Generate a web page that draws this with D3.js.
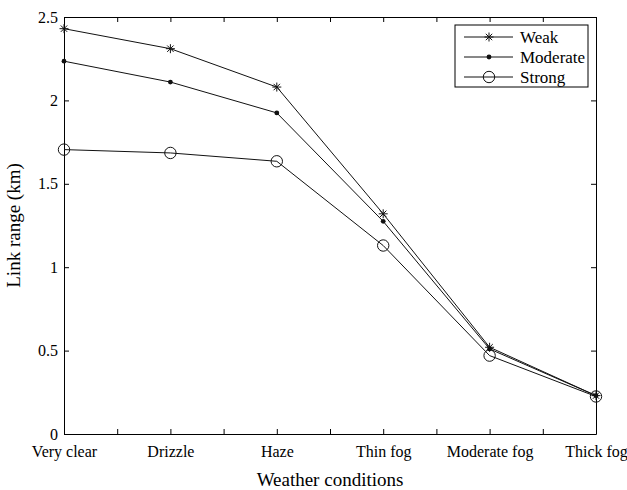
<!doctype html>
<html lang="en">
  <head>
    <meta charset="utf-8">
    <script src="https://cdn.jsdelivr.net/npm/d3@7"></script>
    <style>
      body {margin:0; background:white; font-family: "Liberation Serif", "Times New Roman", serif}
      svg {display:block}
      .axis path, .axis line {stroke:black; stroke-width:1px}
      .axis text {font-family:"Liberation Serif", serif; font-size:16px; fill:black}
    </style>
    <title>Link range vs weather</title>
  </head>
  <body>
    <script>
      // data
      const weather = ["Very clear", "Drizzle", "Haze", "Thin fog", "Moderate fog", "Thick fog"];
      const weak     = [2.43, 2.31, 2.08, 1.32, 0.52, 0.23];
      const moderate = [2.235, 2.11, 1.925, 1.275, 0.51, 0.23];
      const strong   = [1.705, 1.685, 1.635, 1.13, 0.47, 0.225];
      const yTicks = [0, 0.5, 1, 1.5, 2, 2.5];

      const series = [
        {name:"Weak", values:weak, marker:"star"},
        {name:"Moderate", values:moderate, marker:"dot"},
        {name:"Strong", values:strong, marker:"circle"}
      ];

      let margin = {top:17, left:64, right:31, bottom:56};
      let W = 627, H = 490;
      let w = W - margin.left - margin.right;
      let h = H - margin.top - margin.bottom;

      let x = d3.scaleLinear().domain([0, weather.length-1]).range([0, w]);
      let y = d3.scaleLinear().domain([0, 2.5]).range([h, 0]);

      let svg = d3.select("body").append("svg")
          .attr("width", W).attr("height", H);
      let canvas = svg.append("g")
          .attr("transform", "translate(" + margin.left + "," + margin.top + ")");

      let xTickVals = d3.range(0, weather.length - 0.99, 0.5);
      let xFmt = (d) => Number.isInteger(d) ? weather[d] : "";

      canvas.append("g").attr("class","axis")
          .attr("transform","translate(0," + h + ")")
          .call(d3.axisBottom(x).tickValues(xTickVals).tickFormat(xFmt).tickSizeInner(-5).tickSizeOuter(0).tickPadding(12));
      canvas.append("g").attr("class","axis")
          .call(d3.axisTop(x).tickValues(xTickVals).tickFormat("").tickSizeInner(-5).tickSizeOuter(0));
      canvas.append("g").attr("class","axis")
          .call(d3.axisLeft(y).tickValues(yTicks).tickFormat(d3.format("")).tickSizeInner(-5).tickSizeOuter(0).tickPadding(6));
      canvas.append("g").attr("class","axis")
          .attr("transform","translate(" + w + ",0)")
          .call(d3.axisRight(y).tickValues(yTicks).tickFormat("").tickSizeInner(-5).tickSizeOuter(0));

      // lines
      let line = d3.line().x((d,i)=>x(i)).y((d)=>y(d));
      canvas.selectAll(".series").data(series).enter()
          .append("path")
          .attr("d", (s)=>line(s.values))
          .attr("fill","none").attr("stroke","#111").attr("stroke-width",1);

      function drawMarker(g, type) {
        if (type == "star") {
          g.append("path")
            .attr("d", "M-4.5,0H4.5M0,-4.5V4.5M-3.2,-3.2L3.2,3.2M-3.2,3.2L3.2,-3.2")
            .attr("stroke","#111").attr("stroke-width",1).attr("fill","none");
        } else if (type == "dot") {
          g.append("circle").attr("r",2.4).attr("fill","#111");
        } else {
          g.append("circle").attr("r",5.7).attr("fill","none").attr("stroke","#111").attr("stroke-width",1);
        }
      }

      series.forEach(function(s) {
        s.values.forEach(function(v, i) {
          let g = canvas.append("g").attr("transform","translate(" + x(i) + "," + y(v) + ")");
          drawMarker(g, s.marker);
        });
      });

      // axis titles
      canvas.append("text")
          .attr("x", w/2).attr("y", h + 52)
          .attr("text-anchor","middle")
          .attr("font-size","19px")
          .text("Weather conditions");
      canvas.append("text")
          .attr("transform","translate(-44," + (h/2) + ") rotate(-90)")
          .attr("text-anchor","middle")
          .attr("font-size","19px")
          .text("Link range (km)");

      // legend
      let legend = canvas.append("g").attr("transform","translate(" + (w - 141) + ",8)");
      legend.append("rect")
          .attr("width",133).attr("height",62)
          .attr("fill","white").attr("stroke","black").attr("stroke-width",1);
      series.forEach(function(s, k) {
        let row = legend.append("g").attr("transform","translate(0," + (12 + k*20) + ")");
        row.append("line").attr("x1",9).attr("x2",58).attr("stroke","#111").attr("stroke-width",1);
        let m = row.append("g").attr("transform","translate(34,0)");
        drawMarker(m, s.marker);
        row.append("text").attr("x",65).attr("y",6)
            .attr("font-size","17px").text(s.name);
      });
    </script>
  </body>
</html>
